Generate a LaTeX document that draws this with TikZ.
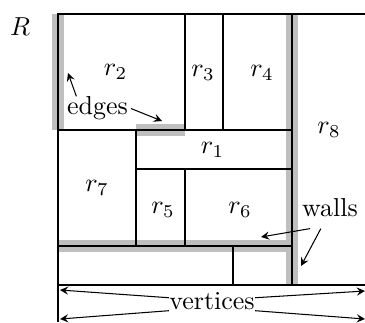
\documentclass[tikz,border=0pt]{standalone}
\usetikzlibrary{arrows}
\tikzset{
  wall/.style={line width=4.4pt,gray!50},
  part/.style={thick},
  lbl/.style={inner sep=0pt},
}
\begin{document}
\begin{tikzpicture}[x=0.385pt,y=-0.385pt]
  \useasboundingbox (0,0) rectangle (365,322);
  % walls and edges (gray, under the partition)
  \draw[wall] (58,14) -- (58,130);
  \draw[wall] (136,130) -- (185,130);
  \draw[wall] (292,14) -- (292,285);
  \draw[wall] (58,246) -- (292,246);
  % the rectangle R and its partition
  \draw[part] (365,14) -- (58,14) -- (58,322);
  \draw[part] (58,285) -- (365,285);
  \draw[part] (292,14) -- (292,285);
  \draw[part] (58,130) -- (292,130);
  \draw[part] (185,14) -- (185,130);
  \draw[part] (223,14) -- (223,130);
  \draw[part] (136,130) -- (136,246);
  \draw[part] (136,169) -- (292,169);
  \draw[part] (185,169) -- (185,246);
  \draw[part] (58,246) -- (292,246);
  \draw[part] (233,246) -- (233,285);
  % rectangle names
  \node (R) at (20,27) {$R$};
  \node (r1) at (212.5,150) {$r_1$};
  \node (r2) at (115.5,72) {$r_2$};
  \node (r3) at (203,72.5) {$r_3$};
  \node (r4) at (262,72.5) {$r_4$};
  \node (r5) at (163,209.5) {$r_5$};
  \node (r6) at (240,209.5) {$r_6$};
  \node (r7) at (97,187.5) {$r_7$};
  \node (r8) at (329,130) {$r_8$};
  % edges
  \node[lbl] (edges) at (97.5,108.5) {edges};
  \coordinate (edgeA) at (68,73);
  \coordinate (edgeB) at (162,121);
  \draw[-stealth] (edges.150) -- (edgeA);
  \draw[-stealth] ([xshift=1pt]edges.east) -- (edgeB);
  % walls
  \node[inner sep=4.2pt] (walls) at (330,208) {walls};
  \coordinate (wallA) at (261,237);
  \coordinate (wallB) at (301,266);
  \draw[-stealth] (walls.226) -- (wallA);
  \draw[-stealth] (walls.246) -- (wallB);
  % vertices
  \node[lbl] (vertices) at (212,301.5) {vertices};
  \coordinate (vA) at (60,290);
  \coordinate (vB) at (60,319);
  \coordinate (vC) at (365,291);
  \coordinate (vD) at (365,319);
  \draw[-stealth] (vertices.175) -- (vA);
  \draw[-stealth] (vertices.south west) -- (vB);
  \draw[-stealth] (vertices.5) -- (vC);
  \draw[-stealth] (vertices.south east) -- (vD);
\end{tikzpicture}
\end{document}
